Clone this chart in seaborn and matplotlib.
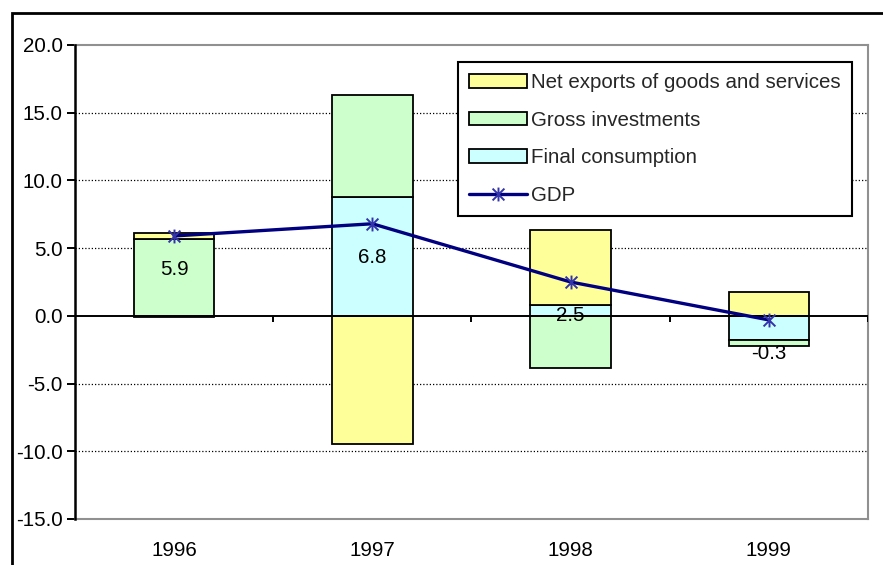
import numpy as np
import pandas as pd
import matplotlib
matplotlib.use("Agg")
import matplotlib.pyplot as plt
from matplotlib.patches import Patch, Rectangle
from matplotlib.lines import Line2D
from matplotlib.path import Path
import seaborn as sns

# ---- data ----
years = ["1996", "1997", "1998", "1999"]
final_consumption = [-0.1, 8.75, 0.82, -1.8]
gross_investments = [5.68, 7.55, -3.86, -0.42]
net_exports = [0.45, -9.45, 5.5, 1.75]
gdp = [5.9, 6.8, 2.5, -0.3]

series_names = ["Final consumption", "Gross investments", "Net exports of goods and services"]
series_values = [final_consumption, gross_investments, net_exports]
series_colors = ["#CCFFFF", "#CCFFCC", "#FFFF99"]
yticks = [-15, -10, -5, 0, 5, 10, 15, 20]

sns.set_theme(style="white")
plt.rcParams["font.family"] = ["Liberation Sans", "DejaVu Sans"]
FS = 14.8

fig = plt.figure(figsize=(8.83, 5.65), dpi=100)
ax = fig.add_axes([75 / 883, 1 - 519 / 565, (868 - 75) / 883, (519 - 45) / 565])

# stacked bars (positives stack up, negatives stack down, in series order)
pos_base = np.zeros(len(years))
neg_base = np.zeros(len(years))
for name, vals, col in zip(series_names, series_values, series_colors):
    v = np.array(vals, dtype=float)
    bottom = np.where(v >= 0, pos_base, neg_base)
    df = pd.DataFrame({"year": years, "val": v})
    sns.barplot(data=df, x="year", y="val", order=years, bottom=bottom,
                color=col, saturation=1, width=0.406, edgecolor="black",
                linewidth=1.3, errorbar=None, ax=ax, zorder=3)
    pos_base = pos_base + np.where(v >= 0, v, 0)
    neg_base = neg_base + np.where(v < 0, v, 0)

# GDP line with asterisk marker
star = Path([(0, -1), (0, 1), (-0.85, -0.85), (0.85, 0.85), (-0.85, 0.85), (0.85, -0.85)],
            [Path.MOVETO, Path.LINETO, Path.MOVETO, Path.LINETO, Path.MOVETO, Path.LINETO])
xpos = np.arange(len(years))
ax.plot(xpos, gdp, color="#000080", lw=2.4, zorder=5)
ax.plot(xpos, gdp, linestyle="none", marker=star, markersize=10,
        markerfacecolor="none", markeredgecolor="#3333AA", markeredgewidth=1.4, zorder=6)

for xi, v in zip(xpos, gdp):
    ax.annotate(f"{v:.1f}", xy=(xi, v), xytext=(0, -24), textcoords="offset points",
                ha="center", va="center", fontsize=FS, color="black", zorder=7)

# axes styling
ax.set_ylim(-15, 20)
ax.set_xlim(-0.5, len(years) - 0.5)
ax.set_yticks(yticks)
ax.set_yticklabels([f"{t:.1f}" for t in yticks])
ax.set_xlabel("")
ax.set_ylabel("")
for t in yticks:
    if t not in (0, yticks[0], yticks[-1]):
        ax.axhline(t, color="black", lw=0.9, linestyle=(0, (1, 1.6)), zorder=1)
ax.axhline(0, color="black", lw=1.4, zorder=4)
ax.vlines(xpos + 0.5, 0, -0.45, color="black", lw=1.4, zorder=4)

for s in ["top", "right", "bottom"]:
    ax.spines[s].set_color("#909090")
    ax.spines[s].set_linewidth(1.5)
ax.spines["left"].set_color("black")
ax.spines["left"].set_linewidth(1.8)
ax.spines["left"].set_zorder(8)
ax.tick_params(axis="y", which="both", left=True, length=6, width=1.4, color="black",
               pad=3, labelsize=FS, labelcolor="black")
ax.tick_params(axis="x", length=0, pad=16, labelsize=FS, labelcolor="black")

# legend
handles = [Patch(facecolor=series_colors[2], edgecolor="black", linewidth=1.3),
           Patch(facecolor=series_colors[1], edgecolor="black", linewidth=1.3),
           Patch(facecolor=series_colors[0], edgecolor="black", linewidth=1.3),
           Line2D([0], [0], color="#000080", lw=2.4, marker=star, markersize=10,
                  markerfacecolor="none", markeredgecolor="#3333AA", markeredgewidth=1.4)]
labels = [series_names[2], series_names[1], series_names[0], "GDP"]
leg = ax.legend(handles, labels, loc="upper right", bbox_to_anchor=(852 / 883, 1 - 62 / 565),
                bbox_transform=fig.transFigure, fontsize=FS, frameon=True, fancybox=False,
                edgecolor="black", framealpha=1, handlelength=2.8, handleheight=0.65,
                handletextpad=0.2, labelspacing=0.9, borderpad=0.55, borderaxespad=0)
leg.get_frame().set_linewidth(1.5)
leg.set_zorder(10)

# outer chart border (extends past the cropped right/bottom edges)
fig.patches.append(Rectangle((12 / 883, -0.2), 1.2, 1.2 - 13 / 565, transform=fig.transFigure,
                             fill=False, edgecolor="black", linewidth=2, clip_on=False))

fig.savefig("out.png", dpi=100)
